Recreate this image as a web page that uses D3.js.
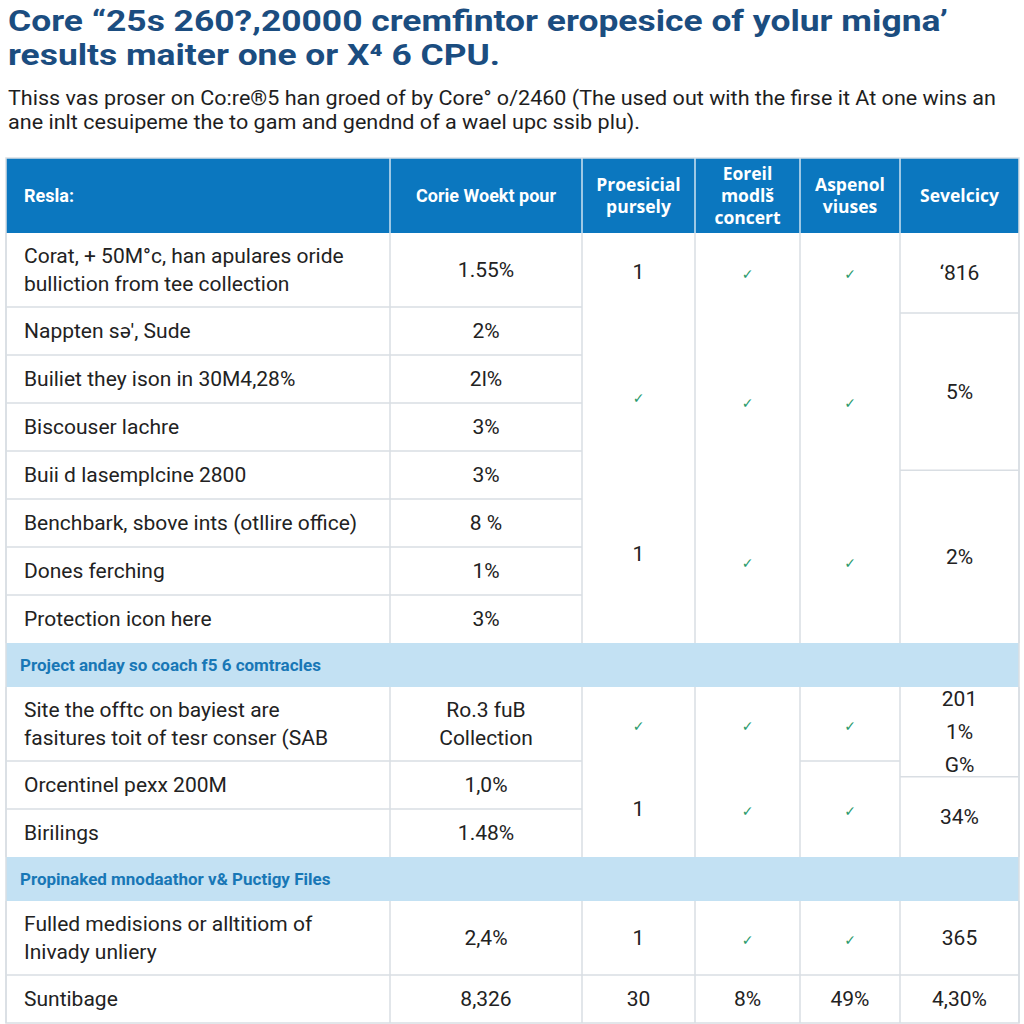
<!DOCTYPE html>
<html lang="en">
<head>
<meta charset="UTF-8">
<title>Core table</title>
<script src="https://cdn.jsdelivr.net/npm/d3@7"></script>
<style>
  body { margin: 0; background: #fff; }
  text { font-family: Roboto, "Open Sans", sans-serif; }
</style>
</head>
<body>
<svg id="body" width="1024" height="1024"></svg>
<script>
// ---- data ----
const titleLines = ["Core \u201c25s 260?,20000 cremfintor eropesice of yolur migna\u2019", "results maiter one or X\u2074 6 CPU."]
const subtitleLines = ["Thiss vas proser on Co:re\u00ae5 han groed of by Core\u00b0 o/2460 (The used out with the firse it At one wins an",
                       "ane inlt cesuipeme the to gam and gendnd of a wael upc ssib plu)."]

const headers = [["Resla:"], ["Corie Woekt pour"], ["Proesicial", "pursely"], ["Eoreil", "modl\u0161", "concert"], ["Aspenol", "viuses"], ["Sevelcicy"]]

const rowLabels = [
  ["Corat, + 50M\u00b0c, han apulares oride", "bulliction from tee collection"],
  ["Nappten s\u0259', Sude"],
  ["Builiet they ison in 30M4,28%"],
  ["Biscouser lachre"],
  ["Buii d lasemplcine 2800"],
  ["Benchbark, sbove ints (otllire office)"],
  ["Dones ferching"],
  ["Protection icon here"],
  ["Project anday so coach f5 6 comtracles"],
  ["Site the offtc on bayiest are", "fasitures toit of tesr conser (SAB"],
  ["Orcentinel pexx 200M"],
  ["Birilings"],
  ["Propinaked mnodaathor v& Puctigy Files"],
  ["Fulled medisions or alltitiom of", "Inivady unliery"],
  ["Suntibage"]
]
const bandRows = [8, 12]

const col1Values = [["1.55%"], ["2%"], ["2l%"], ["3%"], ["3%"], ["8 %"], ["1%"], ["3%"], null,
                    ["Ro.3 fuB", "Collection"], ["1,0%"], ["1.48%"], null, ["2,4%"], ["8,326"]]

// merged cells per column: [fromRow, toRow, text lines, rule below]
const col2Cells = [[0, 1.1, ["1"], 0], [1.1, 4.6, ["\u2713"], 0], [4.6, 7.7, ["1"], 0],
                   [9, 10, ["\u2713"], 0], [10, 12, ["1"], 0], [13, 14, ["1"], 1], [14, 15, ["30"], 0]]
const col3Cells = [[0, 1.1, ["\u2713"], 0], [1.1, 4.8, ["\u2713"], 0], [4.8, 7.8, ["\u2713"], 0],
                   [9, 10, ["\u2713"], 0], [10, 12, ["\u2713"], 0], [13, 14, ["\u2713"], 1], [14, 15, ["8%"], 0]]
const col4Cells = [[0, 1.1, ["\u2713"], 0], [1.1, 4.8, ["\u2713"], 0], [4.8, 7.8, ["\u2713"], 0],
                   [9, 10, ["\u2713"], 1], [10, 12, ["\u2713"], 0], [13, 14, ["\u2713"], 1], [14, 15, ["49%"], 0]]
const col5Cells = [[0, 1.125, ["\u2018816"], 1], [1.125, 4.4, ["5%"], 1], [4.4, 8, ["2%"], 0],
                   [9, 10.33, ["201", "1%", "G%"], 1], [10.33, 12, ["34%"], 0], [13, 14, ["365"], 1], [14, 15, ["4,30%"], 0]]

// ---- layout ----
let body = d3.select("#body")
const blue = "#0b77bf", rule = "#d9dee3", ink = "#222"

let x = d3.scaleLinear().domain(d3.range(7)).range([6, 390, 582, 695, 800, 900, 1019])
let heights = rowLabels.map((r, i) => bandRows.includes(i) ? 44 : (r.length > 1 ? 74 : 48))
let edges = [233]
heights.forEach(h => edges.push(edges[edges.length - 1] + h))
let y = d3.scaleLinear().domain(d3.range(edges.length)).range(edges)

// title + subtitle
body.selectAll(".title").data(titleLines).enter().append("text")
  .attr("x", 8).attr("y", (d, i) => 31 + i * 34)
  .attr("textLength", (d, i) => i == 0 ? 940 : 492).attr("lengthAdjust", "spacingAndGlyphs")
  .attr("font-size", 29).attr("font-weight", 700).attr("fill", "#1b4d80")
  .text(d => d)
body.selectAll(".sub").data(subtitleLines).enter().append("text")
  .attr("x", 8).attr("y", (d, i) => 105 + i * 24)
  .attr("textLength", (d, i) => i == 0 ? 988 : 632).attr("lengthAdjust", "spacingAndGlyphs")
  .attr("font-size", 20.5).attr("fill", "#1e1e1e")
  .text(d => d)

// header
body.append("rect").attr("x", x(0)).attr("y", 158).attr("width", x(6) - x(0)).attr("height", 75).attr("fill", blue)
d3.range(1, 6).forEach(c => body.append("line").attr("x1", x(c)).attr("x2", x(c)).attr("y1", 158).attr("y2", 233)
  .attr("stroke", "#cfe3f2").attr("stroke-width", 1.5))
headers.forEach((lines, c) => {
  let cx = c == 0 ? x(0) + 18 : (x(c) + x(c + 1)) / 2
  lines.forEach((t, k) => body.append("text")
    .attr("x", cx).attr("y", 196 + (k - (lines.length - 1) / 2) * 22 + 6)
    .attr("text-anchor", c == 0 ? "start" : "middle")
    .attr("font-size", c < 2 ? 18 : 17.5).attr("font-weight", 700).attr("fill", "#fff")
    .style("font-family", c < 2 ? "Roboto" : "'Open Sans'")
    .text(t))
})

// body background + bands
body.append("rect").attr("x", x(0)).attr("y", y(0)).attr("width", x(6) - x(0)).attr("height", y(15) - y(0)).attr("fill", "#fff")
bandRows.forEach(r => {
  body.append("rect").attr("x", x(0)).attr("y", y(r)).attr("width", x(6) - x(0)).attr("height", y(r + 1) - y(r)).attr("fill", "#c3e1f3")
  body.append("text").attr("x", x(0) + 14).attr("y", (y(r) + y(r + 1)) / 2 + 6)
    .attr("font-size", 17).attr("font-weight", 700).attr("fill", "#1877b6")
    .text(rowLabels[r][0])
})

// vertical rules per section
const sections = [[0, 8], [9, 12], [13, 15]]
sections.forEach(s => d3.range(0, 7).forEach(c => body.append("line")
  .attr("x1", x(c)).attr("x2", x(c)).attr("y1", y(s[0])).attr("y2", y(s[1]))
  .attr("stroke", rule).attr("stroke-width", 1.5)))

function cellText(lines, cx, cy, anchor) {
  lines.forEach((t, k) => {
    let lh = lines.length > 2 ? 33 : 28
    let chk = t == "\u2713"
    body.append("text")
      .attr("x", cx).attr("y", cy + (k - (lines.length - 1) / 2) * lh + 7)
      .attr("text-anchor", anchor)
      .attr("font-size", chk ? 14 : 21)
      .attr("fill", chk ? "#2a9a6c" : ink)
      .style("font-family", chk ? "'DejaVu Sans'" : null)
      .style("paint-order", "stroke").attr("stroke", chk ? "none" : "#fff").attr("stroke-width", 4)
      .text(t)
  })
}

// first two columns: one cell per row
rowLabels.forEach((lines, r) => {
  if (bandRows.includes(r)) return
  if (r + 1 < rowLabels.length && !bandRows.includes(r + 1))
    body.append("line").attr("x1", x(0)).attr("x2", x(2)).attr("y1", y(r + 1)).attr("y2", y(r + 1))
      .attr("stroke", rule).attr("stroke-width", 1.5)
})

// merged columns: rules first, then text on top
const merged = [col2Cells, col3Cells, col4Cells, col5Cells]
merged.forEach((cells, i) => {
  let c = i + 2
  cells.forEach(d => {
    if (d[3]) body.append("line").attr("x1", x(c)).attr("x2", x(c + 1)).attr("y1", y(d[1])).attr("y2", y(d[1]))
      .attr("stroke", rule).attr("stroke-width", 1.5)
  })
})
rowLabels.forEach((lines, r) => {
  if (bandRows.includes(r)) return
  let cy = (y(r) + y(r + 1)) / 2
  cellText(lines, x(0) + 18, cy, "start")
  cellText(col1Values[r], (x(1) + x(2)) / 2, cy, "middle")
})
merged.forEach((cells, i) => {
  let c = i + 2
  cells.forEach(d => cellText(d[2], (x(c) + x(c + 1)) / 2, (y(d[0]) + y(d[1])) / 2, "middle"))
})

// outer border
body.append("rect").attr("x", x(0)).attr("y", 158).attr("width", x(6) - x(0)).attr("height", y(15) - 158)
  .attr("fill", "none").attr("stroke", rule).attr("stroke-width", 1.5)
</script>
</body>
</html>
